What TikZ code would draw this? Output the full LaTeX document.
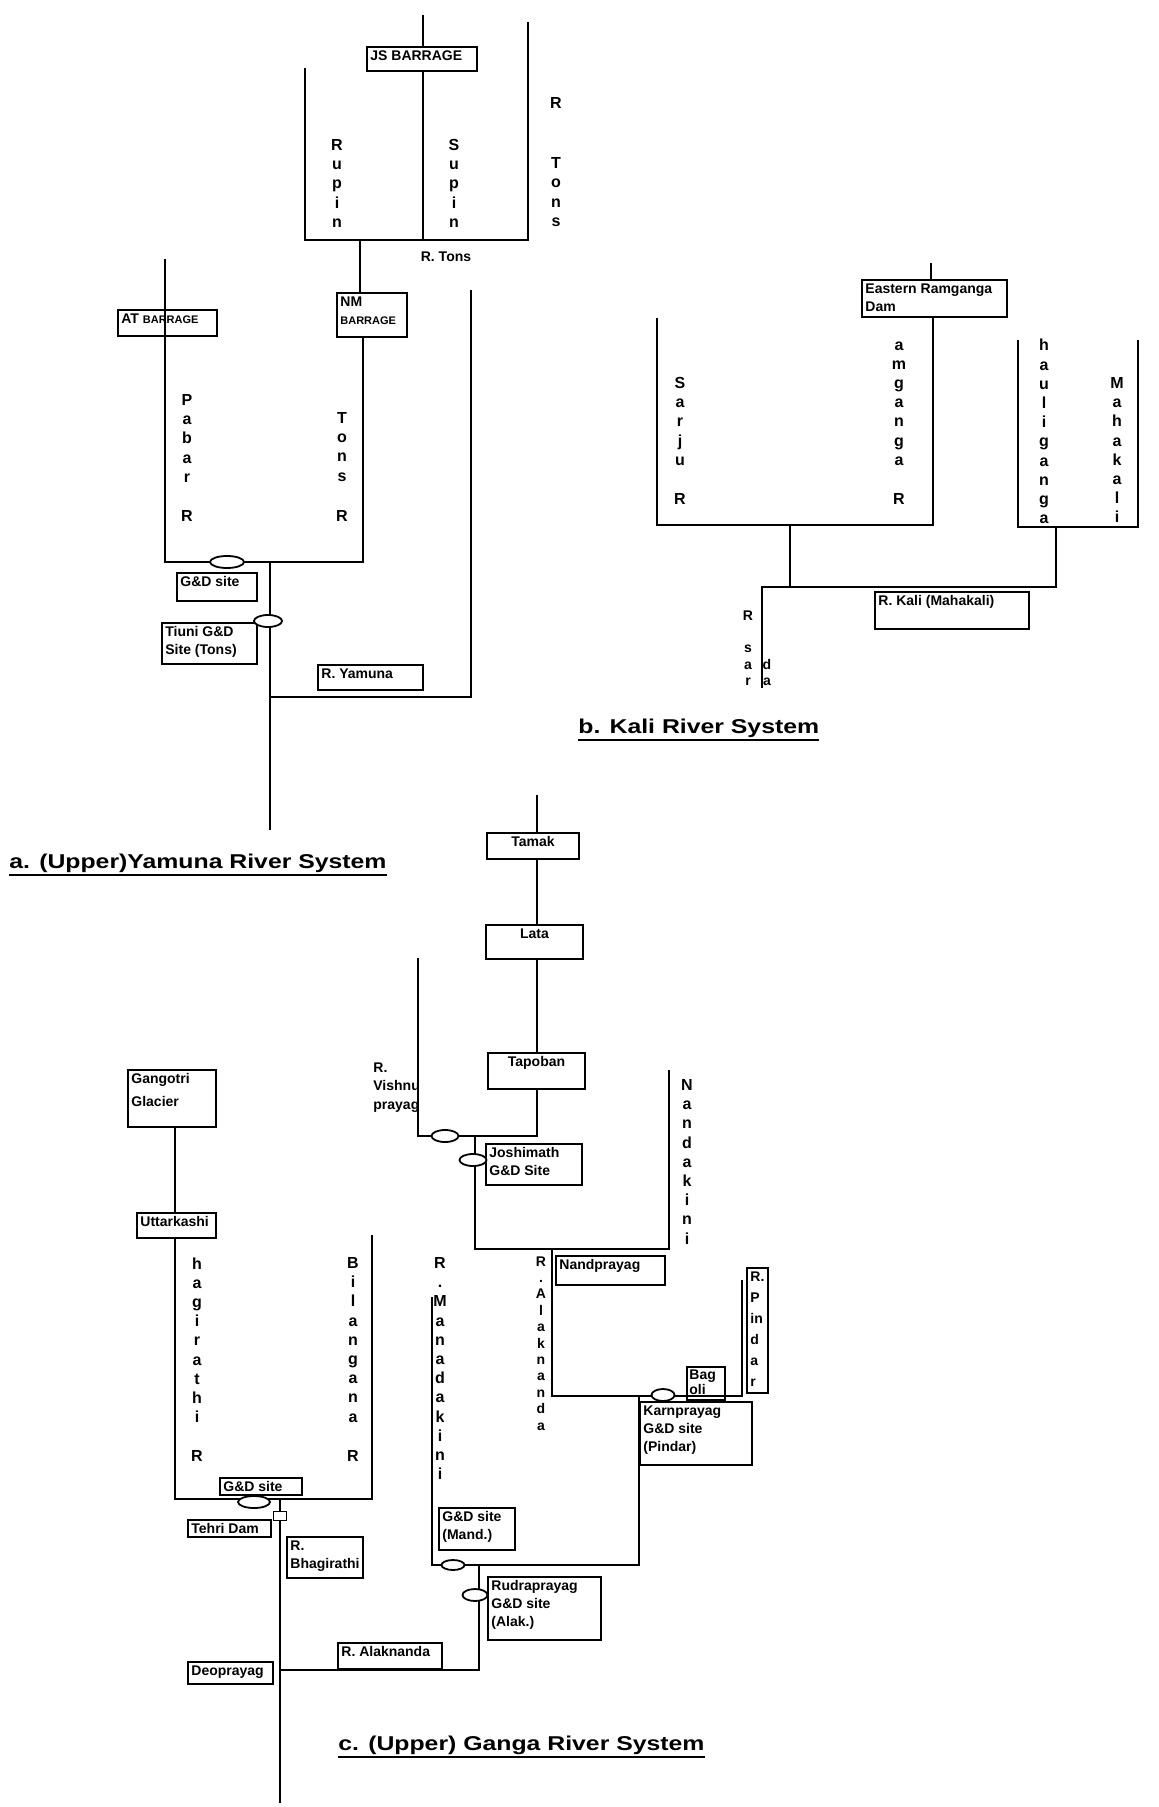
\documentclass[tikz,border=0pt]{standalone}
\usepackage{fontspec}
\setmainfont{Liberation Sans}
\usetikzlibrary{shapes.geometric}

\tikzset{
  river/.style={line width=1pt},
  sitebox/.style={draw, line width=0.9pt, anchor=north west, inner sep=0pt, outer sep=0pt},
  sitelabel/.style={anchor=north west, align=left, inner sep=1.5pt, font=\fontsize{7}{9}\selectfont\bfseries},
  vword/.style={align=center, inner sep=0pt, anchor=north, font=\fontsize{8}{9.6}\selectfont\bfseries},
  vsmall/.style={vword, font=\fontsize{7}{8.2}\selectfont\bfseries},
  gdsite/.style={ellipse, draw, fill=white, line width=0.9pt, inner sep=0pt, minimum width=15pt, minimum height=6pt},
  damsq/.style={rectangle, draw, fill=white, line width=0.8pt, inner sep=0pt, minimum width=6.5pt, minimum height=4.5pt},
  sysname/.style={anchor=base west, inner sep=0pt, font=\fontsize{10}{12}\selectfont\bfseries}
}
% box from (x1,y1) to (x2,y2) in scan pixels, label top left
\newcommand\sitebox[7][]{%
  \node[sitebox, minimum width={(#5-#3)*0.5pt}, minimum height={(#6-#4)*0.5pt}] (#2) at (#3,#4) {};
  \node[sitelabel, at={(#2.north west)}, #1] (#2-l) {#7};}
\newcommand\sysline[1]{\scalebox{1.24}[1]{\setbox0=\hbox{#1}\rlap{\rule[-4pt]{\wd0}{1pt}}\box0}}

\begin{document}
\begin{tikzpicture}[x=0.5pt, y=-0.5pt]
    \useasboundingbox (0,0) rectangle (1159,1807);

    % a. Yamuna
    \sitebox{js}{367}{47}{477}{71}{JS BARRAGE}
    \sitebox{at}{118}{310}{217}{336}{AT {\fontsize{5.5}{6}\selectfont BARRAGE}}
    \sitebox{nm}{337}{293}{407}{337}{NM\\{\fontsize{5.5}{6}\selectfont BARRAGE}}
    \sitebox{gdy}{177}{573}{257}{601}{G\&D site}
    \sitebox{tiuni}{162}{623}{257}{664}{Tiuni G\&D\\Site (Tons)}
    \sitebox{yamuna}{318}{665}{423}{690}{R. Yamuna}

    \coordinate (jstop) at (423,15);
    \coordinate (rupintop) at (305,68);
    \coordinate (tonstop) at (528,22);
    \coordinate (tonsbl) at (305,240);
    \coordinate (tonsbr) at (528,240);
    \coordinate (tonsout) at (360,240);
    \coordinate (pabartop) at (165,259);
    \coordinate (yambl) at (165,562);
    \coordinate (yambr) at (363,562);
    \coordinate (yamout) at (270,562);
    \coordinate (yamj) at (270,697);
    \coordinate (yamunatop) at (471,290);
    \coordinate (yamend) at (270,830);

    \draw[river] (jstop) -- (jstop |- js.north);
    \draw[river] (jstop |- js.south) -- (jstop |- tonsbl);
    \draw[river] (rupintop) -- (tonsbl) -- (tonsbr) -- (tonstop);
    \draw[river] (tonsout) -- (tonsout |- nm.north);
    \draw[river] (pabartop) -- (yambl) -- (yambr) -- (yambr |- nm.south);
    \draw[river] (yamout) -- (yamend);
    \draw[river] (yamj) -- (yamj -| yamunatop) -- (yamunatop);

    \node[gdsite, minimum width=17pt] (gdy-o) at (227,562) {};
    \node[gdsite, minimum width=14pt] (tiuni-o) at (268,621) {};

    \node[font=\fontsize{7}{9}\selectfont\bfseries] (tons-l) at (446,257) {R. Tons};
    \node[vword] (rupin) at (337,139) {R\\u\\p\\i\\n};
    \node[vword] (supin) at (454,139) {S\\u\\p\\i\\n};
    \node[vword] (tons-v) at (556,97) {R\\[20.5pt]T\\o\\n\\s};
    \node[vword] (pabar) at (187,394) {P\\a\\b\\a\\r\\[10pt]R};
    \node[vword] (tons-r) at (342,412) {T\\o\\n\\s\\[10.5pt]R};

    \node[sysname] (ttl-a) at (9,868) {\sysline{a. (Upper)Yamuna River System}};

    % b. Kali
    \sitebox{er}{862}{280}{1007}{317}{Eastern Ramganga\\Dam}
    \sitebox{kali}{875}{592}{1029}{629}{R. Kali (Mahakali)}

    \coordinate (ertop) at (931,263);
    \coordinate (sarjutop) at (657,318);
    \coordinate (kalibl) at (657,525);
    \coordinate (kalibr) at (933,525);
    \coordinate (dhaulitop) at (1018,340);
    \coordinate (mahatop) at (1138,340);
    \coordinate (dhaulibl) at (1018,527);
    \coordinate (mahabr) at (1138,527);
    \coordinate (kalij1) at (790,525);
    \coordinate (kalij2) at (1056,527);
    \coordinate (sardaj) at (762,587);
    \coordinate (sardaend) at (762,688);

    \draw[river] (ertop) -- (ertop |- er.north);
    \draw[river] (kalibr |- er.south) -- (kalibr) -- (kalibl) -- (sarjutop);
    \draw[river] (dhaulitop) -- (dhaulibl) -- (mahabr) -- (mahatop);
    \draw[river] (kalij1) -- (kalij1 |- sardaj);
    \draw[river] (kalij2) -- (kalij2 |- sardaj) -- (sardaj) -- (sardaend);

    \node[vword] (sarju) at (680,377) {S\\a\\r\\j\\u\\[10pt]R};
    \node[vword] (ramganga) at (899,341) {a\\m\\g\\a\\n\\g\\a\\[10pt]R};
    \node[vword] (dhauli) at (1044,339) {h\\a\\u\\l\\i\\g\\a\\n\\g\\a};
    \node[vword] (mahakali) at (1117,377) {M\\a\\h\\a\\k\\a\\l\\i};
    \node[vsmall] (sarda1) at (748,610) {R\\[8.2pt]s\\a\\r};
    \node[vsmall] (sarda2) at (767,659) {d\\a};

    \node[sysname] (ttl-b) at (578,733) {\sysline{b. Kali River System}};

    % c. Ganga
    \sitebox[anchor=north, at={(tamak.north)}]{tamak}{487}{833}{579}{859}{Tamak}
    \sitebox[anchor=north, at={(lata.north)}]{lata}{486}{925}{583}{959}{Lata}
    \sitebox[anchor=north, at={(tapoban.north)}]{tapoban}{488}{1053}{585}{1089}{Tapoban}
    \sitebox{joshimath}{486}{1144}{582}{1185}{Joshimath\\G\&D Site}
    \sitebox{nandprayag}{556}{1256}{665}{1285}{Nandprayag}
    \sitebox[inner sep=1pt, font=\fontsize{7}{7.8}\selectfont\bfseries]{bagoli}{687}{1367}{725}{1400}{Bag\\oli}
    \sitebox[font=\fontsize{7}{10.5}\selectfont\bfseries]{pindar}{747}{1268}{768}{1393}{R.\\P\\in\\d\\a\\r}
    \sitebox{karnprayag}{640}{1402}{752}{1465}{Karnprayag\\G\&D site\\(Pindar)}
    \sitebox{gdm}{439}{1508}{515}{1550}{G\&D site\\(Mand.)}
    \sitebox{rudraprayag}{488}{1577}{601}{1640}{Rudraprayag\\G\&D site\\(Alak.)}
    \sitebox{alaknanda}{338}{1643}{442}{1669}{R. Alaknanda}
    \sitebox[font=\fontsize{7}{11.5}\selectfont\bfseries]{gangotri}{128}{1070}{216}{1127}{Gangotri\\Glacier}
    \sitebox{uttarkashi}{137}{1213}{216}{1238}{Uttarkashi}
    \sitebox{gdb}{220}{1478}{302}{1495}{G\&D site}
    \sitebox{tehri}{188}{1520}{271}{1537}{Tehri Dam}
    \sitebox{bhagirathi}{287}{1537}{363}{1578}{R.\\Bhagirathi}
    \sitebox{deoprayag}{188}{1662}{273}{1684}{Deoprayag}

    \coordinate (gx) at (537,795);
    \coordinate (jmr) at (537,1136);
    \coordinate (vtop) at (418,958);
    \coordinate (jml) at (418,1136);
    \coordinate (jmout) at (475,1136);
    \coordinate (nl) at (475,1249);
    \coordinate (nr) at (669,1249);
    \coordinate (ntop) at (669,1070);
    \coordinate (nout) at (552,1249);
    \coordinate (kl) at (552,1396);
    \coordinate (kr) at (742,1396);
    \coordinate (ptop) at (742,1280);
    \coordinate (kout) at (639,1396);
    \coordinate (mr) at (639,1565);
    \coordinate (ml) at (432,1565);
    \coordinate (mtop) at (432,1297);
    \coordinate (rout) at (479,1565);
    \coordinate (rj) at (479,1670);
    \coordinate (dj) at (280,1670);
    \coordinate (bl) at (175,1499);
    \coordinate (br) at (372,1499);
    \coordinate (btop) at (372,1235);
    \coordinate (bout) at (280,1499);
    \coordinate (gend) at (280,1803);

    \draw[river] (gx) -- (gx |- tamak.north);
    \draw[river] (gx |- tamak.south) -- (gx |- lata.north);
    \draw[river] (gx |- lata.south) -- (gx |- tapoban.north);
    \draw[river] (gx |- tapoban.south) -- (jmr) -- (jml) -- (vtop);
    \draw[river] (jmout) -- (nl) -- (nr) -- (ntop);
    \draw[river] (nout) -- (kl) -- (kr) -- (ptop);
    \draw[river] (kout) -- (mr) -- (ml) -- (mtop);
    \draw[river] (rout) -- (rj) -- (dj);
    \draw[river] (gangotri.south -| bl) -- (uttarkashi.north -| bl);
    \draw[river] (uttarkashi.south -| bl) -- (bl) -- (br) -- (btop);
    \draw[river] (bout) -- (gend);

    \node[gdsite, minimum width=13.5pt] (vishnu-o) at (445,1136) {};
    \node[gdsite, minimum width=13.5pt] (joshimath-o) at (473,1160) {};
    \node[gdsite, minimum width=11.5pt] (karn-o) at (663,1395) {};
    \node[gdsite, minimum width=11.5pt, minimum height=5pt] (mand-o) at (453,1565) {};
    \node[gdsite, minimum width=12.5pt] (rudra-o) at (475,1595) {};
    \node[gdsite, minimum width=16pt] (bhag-o) at (254,1502) {};
    \node[damsq] (tehri-d) at (280,1516) {};

    \node[font=\fontsize{7}{9.3}\selectfont\bfseries, align=left, anchor=north west, inner sep=0pt] (vishnu-l) at (373,1062) {R.\\Vishnu\\prayag};
    \node[vword] (nandakini) at (687,1079) {N\\a\\n\\d\\a\\k\\i\\n\\i};
    \node[vsmall] (alaknanda-v) at (541,1256) {R\\.\\A\\l\\a\\k\\n\\a\\n\\d\\a};
    \node[vword] (mandakini) at (440,1257) {R\\.\\M\\a\\n\\a\\d\\a\\k\\i\\n\\i};
    \node[vword] (bhagirathi-v) at (197,1257) {h\\a\\g\\i\\r\\a\\t\\h\\i\\[10pt]R};
    \node[vword] (bilangana) at (353,1257) {B\\i\\l\\a\\n\\g\\a\\n\\a\\[10pt]R};

    \node[sysname] (ttl-c) at (338,1750) {\sysline{c. (Upper) Ganga River System}};
\end{tikzpicture}
\end{document}
